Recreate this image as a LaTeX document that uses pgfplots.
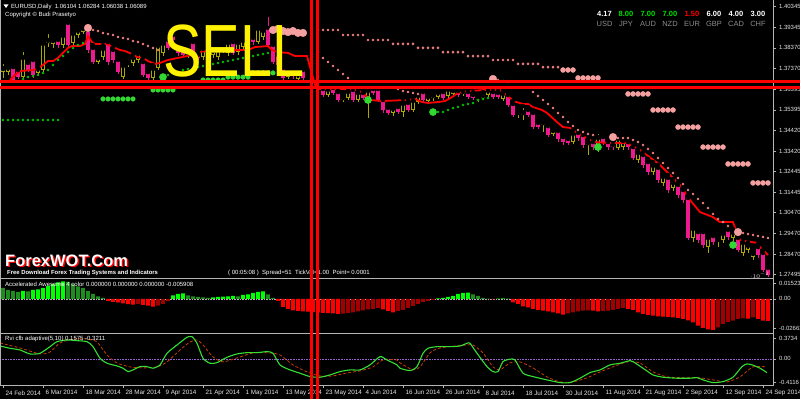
\documentclass[border=0pt]{standalone}
\usepackage{graphicx}
\usepackage{pgfplots}
\pgfplotsset{compat=1.18}
\usepackage{pgfplotstable}
\usepackage{fontspec}
\setmainfont{Liberation Sans}
\definecolor{bullc}{HTML}{A8A800}
\definecolor{bearc}{HTML}{EC1A8C}
\definecolor{sarpink}{HTML}{F08080}
\definecolor{sarpinkbig}{HTML}{F4A0A0}
\definecolor{sargreen}{HTML}{00C000}
\definecolor{sargreenbig}{HTML}{32D732}
\definecolor{aobg}{HTML}{00FF00}
\definecolor{aodg}{HTML}{1E8C1E}
\definecolor{aobr}{HTML}{FF0000}
\definecolor{aodr}{HTML}{A00000}
\definecolor{rvig}{HTML}{33E033}
\definecolor{rvis}{HTML}{C83C00}
\definecolor{axgray}{HTML}{B4B4B4}
\definecolor{lbl}{HTML}{E6E6E6}
\definecolor{curgray}{HTML}{8C8C8C}
\definecolor{curgreen}{HTML}{00E000}

\pgfplotstableread{
x h l t b
0 1.3769 1.3693 1.3741 1.3721
1 1.3760 1.3707 1.3745 1.3721
4 1.3827 1.3688 1.3793 1.3697
7 1.3755 1.3702 1.3741 1.3717
8 1.3875 1.3721 1.3861 1.3731
9 1.3913 1.3841 1.3875 1.3861
10 1.3894 1.3837 1.3875 1.3856
12 1.3913 1.3837 1.3899 1.3851
14 1.3923 1.3846 1.3909 1.3861
15 1.3942 1.3885 1.3923 1.3899
16 1.3947 1.3904 1.3933 1.3913
19 1.3808 1.3760 1.3793 1.3769
20 1.3851 1.3779 1.3837 1.3793
24 1.3769 1.3688 1.3755 1.3697
25 1.3789 1.3745 1.3769 1.3760
26 1.3808 1.3750 1.3793 1.3765
27 1.3827 1.3765 1.3813 1.3779
30 1.3755 1.3683 1.3741 1.3693
31 1.3865 1.3731 1.3851 1.3741
32 1.3875 1.3798 1.3861 1.3813
37 1.3832 1.3789 1.3817 1.3803
40 1.3851 1.3779 1.3837 1.3793
41 1.3846 1.3798 1.3827 1.3813
42 1.3841 1.3789 1.3827 1.3803
43 1.3851 1.3779 1.3837 1.3793
44 1.3856 1.3813 1.3841 1.3827
45 1.3885 1.3798 1.3865 1.3813
47 1.3880 1.3803 1.3865 1.3817
48 1.3889 1.3827 1.3875 1.3841
51 1.3947 1.3856 1.3933 1.3865
52 1.3937 1.3875 1.3923 1.3889
57 1.3736 1.3688 1.3721 1.3697
59 1.3726 1.3683 1.3712 1.3688
65 1.3649 1.3601 1.3640 1.3611
68 1.3616 1.3577 1.3601 1.3587
69 1.3645 1.3587 1.3630 1.3597
71 1.3640 1.3577 1.3625 1.3587
73 1.3645 1.3501 1.3635 1.3597
78 1.3568 1.3510 1.3549 1.3525
80 1.3592 1.3505 1.3573 1.3529
82 1.3601 1.3529 1.3587 1.3539
83 1.3625 1.3568 1.3611 1.3577
85 1.3621 1.3573 1.3606 1.3582
86 1.3630 1.3582 1.3611 1.3597
87 1.3640 1.3592 1.3625 1.3601
89 1.3649 1.3597 1.3640 1.3606
90 1.3649 1.3606 1.3635 1.3616
92 1.3645 1.3606 1.3630 1.3616
95 1.3616 1.3577 1.3601 1.3587
96 1.3625 1.3587 1.3611 1.3597
97 1.3645 1.3601 1.3635 1.3611
100 1.3635 1.3582 1.3621 1.3592
103 1.3549 1.3501 1.3529 1.3520
104 1.3558 1.3491 1.3529 1.3515
108 1.3501 1.3433 1.3481 1.3467
110 1.3457 1.3414 1.3443 1.3424
114 1.3443 1.3376 1.3429 1.3385
117 1.3400 1.3323 1.3385 1.3371
119 1.3433 1.3337 1.3409 1.3347
123 1.3419 1.3347 1.3405 1.3357
124 1.3409 1.3347 1.3395 1.3361
127 1.3352 1.3285 1.3337 1.3299
130 1.3289 1.3227 1.3275 1.3241
132 1.3237 1.3174 1.3222 1.3189
134 1.3208 1.3150 1.3193 1.3165
138 1.2987 1.2905 1.2973 1.2925
141 1.2949 1.2853 1.2929 1.2881
143 1.2939 1.2881 1.2920 1.2910
144 1.2963 1.2901 1.2949 1.2915
146 1.2968 1.2910 1.2953 1.2925
148 1.2920 1.2838 1.2905 1.2853
149 1.2905 1.2853 1.2891 1.2867
150 1.2867 1.2819 1.2853 1.2833
}\bull

\pgfplotstableread{
x h l t b
2 1.3755 1.3673 1.3745 1.3683
3 1.3741 1.3688 1.3731 1.3697
5 1.3779 1.3721 1.3765 1.3731
6 1.3793 1.3693 1.3779 1.3707
11 1.3889 1.3837 1.3875 1.3851
13 1.3971 1.3841 1.3957 1.3851
17 1.3937 1.3813 1.3923 1.3827
18 1.3851 1.3760 1.3837 1.3769
21 1.3885 1.3755 1.3865 1.3769
22 1.3841 1.3765 1.3827 1.3779
23 1.3793 1.3712 1.3779 1.3721
28 1.3789 1.3697 1.3769 1.3707
29 1.3731 1.3683 1.3721 1.3693
33 1.3889 1.3827 1.3875 1.3837
34 1.3923 1.3851 1.3899 1.3875
35 1.3856 1.3798 1.3841 1.3813
36 1.3841 1.3793 1.3827 1.3803
38 1.3880 1.3798 1.3865 1.3813
39 1.3817 1.3779 1.3803 1.3789
46 1.3885 1.3803 1.3865 1.3813
49 1.3894 1.3837 1.3875 1.3851
50 1.3899 1.3851 1.3885 1.3865
53 1.3995 1.3837 1.3933 1.3851
54 1.3865 1.3760 1.3851 1.3769
55 1.3817 1.3741 1.3803 1.3755
56 1.3760 1.3683 1.3741 1.3693
58 1.3731 1.3688 1.3721 1.3702
60 1.3741 1.3683 1.3731 1.3693
64 1.3649 1.3601 1.3640 1.3611
66 1.3654 1.3611 1.3645 1.3621
67 1.3635 1.3577 1.3625 1.3587
70 1.3645 1.3577 1.3635 1.3587
72 1.3630 1.3587 1.3621 1.3597
74 1.3649 1.3611 1.3640 1.3621
75 1.3649 1.3577 1.3640 1.3587
76 1.3601 1.3525 1.3587 1.3539
77 1.3563 1.3515 1.3549 1.3525
79 1.3568 1.3520 1.3553 1.3529
81 1.3587 1.3529 1.3573 1.3539
84 1.3640 1.3573 1.3625 1.3587
88 1.3640 1.3587 1.3625 1.3597
91 1.3645 1.3601 1.3630 1.3611
93 1.3635 1.3592 1.3625 1.3601
94 1.3625 1.3587 1.3611 1.3597
98 1.3635 1.3592 1.3625 1.3601
99 1.3630 1.3592 1.3621 1.3601
101 1.3625 1.3553 1.3611 1.3563
102 1.3582 1.3505 1.3568 1.3515
105 1.3553 1.3505 1.3539 1.3515
106 1.3539 1.3448 1.3525 1.3457
107 1.3491 1.3448 1.3477 1.3457
109 1.3477 1.3409 1.3462 1.3419
111 1.3453 1.3385 1.3438 1.3400
112 1.3424 1.3371 1.3409 1.3385
113 1.3414 1.3371 1.3400 1.3381
115 1.3443 1.3390 1.3429 1.3405
116 1.3433 1.3357 1.3419 1.3371
118 1.3400 1.3347 1.3385 1.3361
120 1.3419 1.3371 1.3409 1.3385
121 1.3400 1.3347 1.3385 1.3361
122 1.3385 1.3347 1.3371 1.3361
125 1.3400 1.3347 1.3385 1.3361
126 1.3376 1.3299 1.3361 1.3309
128 1.3337 1.3261 1.3323 1.3275
129 1.3304 1.3227 1.3289 1.3241
131 1.3275 1.3189 1.3261 1.3203
133 1.3227 1.3141 1.3213 1.3155
135 1.3193 1.3117 1.3179 1.3131
136 1.3169 1.3093 1.3155 1.3107
137 1.3131 1.2915 1.3117 1.2925
139 1.2968 1.2901 1.2953 1.2915
140 1.2968 1.2877 1.2953 1.2891
142 1.2949 1.2891 1.2934 1.2905
145 1.2977 1.2915 1.2963 1.2929
147 1.2939 1.2857 1.2925 1.2867
151 1.2896 1.2829 1.2881 1.2843
152 1.2867 1.2761 1.2853 1.2771
153 1.2795 1.2737 1.2781 1.2747
}\bear

\pgfplotsset{
  mt4/.style={scale only axis, width=773pt, xmin=-0.6, xmax=154,
    axis y line*=right, axis line style={draw=none},
    tick style={axgray, line width=0.6pt}, major tick length=3pt, tick align=outside,
    yticklabel style={font=\fontsize{6}{7}\selectfont, text=lbl, xshift=-0.5pt},
    clip=true},
  wick/.style={only marks, mark=none, forget plot,
    error bars/.cd, y dir=minus, y explicit, error mark=none,
    error bar style={draw=#1, line width=0.8pt}},
  body/.style={only marks, mark=none, forget plot,
    error bars/.cd, y dir=minus, y explicit, error mark=none,
    error bar style={draw=#1, line width=3.4pt}},
  bodyin/.style={only marks, mark=none, forget plot,
    error bars/.cd, y dir=minus, y explicit, error mark=none,
    error bar style={draw=black, line width=1.6pt}},
  dot/.style 2 args={only marks, mark=*, mark size=#2, color=#1, forget plot},
  aobar/.style={ybar, bar width=3.8pt, bar shift=0pt, fill=#1, draw=none, forget plot}
}

\begin{document}
\begin{tikzpicture}[x=1pt,y=1pt]
\useasboundingbox (0,0) rectangle (800,399);
\fill[black] (0,0) rectangle (800,399);

% ---------------- main price panel ----------------
\begin{axis}[mt4, axis x line=none, at={(0pt,121pt)}, anchor=south west, height=278pt,
  ymin=1.27326, ymax=1.4067,
  ytick={1.27495,1.28470,1.29470,1.30470,1.31445,1.32445,1.33420,1.34420,1.35395,1.36395,1.37370,1.38370,1.39345,1.40345},
  yticklabels={1.27495,1.28470,1.29470,1.30470,1.31445,1.32445,1.33420,1.34420,1.35395,1.36395,1.37370,1.38370,1.39345,1.40345}]
% candles
\addplot[wick=bullc] table[x=x, y=h, y error minus expr=\thisrow{h}-\thisrow{l}] {\bull};
\addplot[wick=bearc] table[x=x, y=h, y error minus expr=\thisrow{h}-\thisrow{l}] {\bear};
\addplot[body=bullc] table[x=x, y=t, y error minus expr=\thisrow{t}-\thisrow{b}] {\bull};
\addplot[bodyin] table[x=x, y expr=\thisrow{t}-0.0005, y error minus expr={max(\thisrow{t}-\thisrow{b}-0.001,0)}] {\bull};
\addplot[body=bearc] table[x=x, y=t, y error minus expr=\thisrow{t}-\thisrow{b}] {\bear};
% red line
\addplot[red, line width=1.8pt, forget plot] coordinates {
(1.4,1.3683) (2.4,1.3707) (3.4,1.3726) (6,1.3731) (6.8,1.3736) (8,1.3755) (9,1.3774) (10,1.3774)
(11,1.3789) (12,1.3813) (13,1.3837) (13.8,1.3846) (15.4,1.3846) (16.4,1.3856) (17,1.3894) (17.8,1.3865)
(18.4,1.3856) (20.8,1.3856) (22,1.3841) (23.4,1.3827) (24.4,1.3822) (25.8,1.3808) (26.8,1.3793)
(28,1.3789) (29,1.3774) (30.4,1.3760) (31.4,1.3765) (33,1.3779) (35.8,1.3793) (37.8,1.3803)
(39,1.3817) (42.4,1.3827) (45,1.3832) (46.4,1.3827) (49,1.3827) (50.4,1.3841) (53,1.3846)
(53.8,1.3827) (54.8,1.3817) (57,1.3813) (58.4,1.3798) (60.8,1.3798) (61.4,1.3745) (62.6,1.3645)
(63.4,1.3640) (67.4,1.3640) (71,1.3635) (72.4,1.3611) (73.4,1.3587) (75.8,1.3582) (81,1.3587)
(82.4,1.3592) (83.8,1.3577) (85,1.3573) (87,1.3577) (88.4,1.3582) (89.8,1.3601) (91,1.3621)
(93,1.3630) (96.4,1.3635) (99.4,1.3635) (101.4,1.3597) (102,1.3582) (104,1.3568) (105,1.3568)
(106,1.3553) (107.8,1.3539) (108.8,1.3525) (110.8,1.3481) (112,1.3457) (113.4,1.3453) (114.8,1.3429)
(116,1.3414) (117.4,1.3395) (118.4,1.3385) (120.8,1.3381) (124.8,1.3381) (127.4,1.3347)
(131.4,1.3275) (135.4,1.3179) (137.4,1.3107) (139.4,1.3049) (142,1.3025) (143.4,1.3001)
(146,1.3001) (146.8,1.2949) (147.4,1.2915) (150.8,1.2901) (151.4,1.2881) (153,1.2843)};
% pink SAR (small)
\addplot[dot={sarpink}{1.1pt}] coordinates {
(18,1.3923) (19,1.3918) (20,1.3909) (21,1.3904) (22,1.3899) (23,1.3889) (24,1.3885) (25,1.3880)
(26,1.3870) (27,1.3865) (28,1.3856) (29,1.3846) (30,1.3837) (31,1.3827)
(64,1.3789) (65,1.3769) (66,1.3750) (67,1.3731) (68,1.3712) (69,1.3693)
(79,1.3640) (80,1.3630) (81,1.3625) (82,1.3621) (83,1.3616)
(99,1.3683) (100,1.3678) (101,1.3673) (106,1.3625) (107,1.3606) (108,1.3587) (109,1.3568)
(110,1.3549) (111,1.3525) (112,1.3505) (113,1.3481) (114,1.3462) (115,1.3443) (116,1.3433)
(117,1.3424) (118,1.3419)
(123,1.3405) (124,1.3405) (125,1.3405) (126,1.3395) (127,1.3385) (128,1.3371) (129,1.3352)
(130,1.3333) (131,1.3309) (132,1.3285) (133,1.3261) (134,1.3237) (135,1.3213) (136,1.3184)
(137,1.3155) (138,1.3136) (139,1.3112) (140,1.3093) (141,1.3069) (142,1.3040) (143,1.3016)
(144,1.3001) (145,1.2982) (148,1.2949) (149,1.2944) (150,1.2939) (151,1.2934) (152,1.2929) (153,1.2925)};
% pink staircase (upper, small)
\addplot[dot={sarpink}{1.2pt}] coordinates {
(63,1.3923) (64,1.3923) (65,1.3923) (66,1.3923) (67,1.3923)
(68,1.3899) (69,1.3899) (70,1.3899) (71,1.3899) (72,1.3899)
(73,1.3875) (74,1.3875) (75,1.3875) (76,1.3875) (77,1.3875)
(78,1.3856) (79,1.3856) (80,1.3856) (81,1.3856) (82,1.3856)
(83,1.3837) (84,1.3837) (85,1.3837) (86,1.3837) (87,1.3837)
(88,1.3817) (89,1.3817) (90,1.3817) (91,1.3817) (92,1.3817)
(93,1.3798) (94,1.3798) (95,1.3798) (96,1.3798) (97,1.3798)
(98,1.3779) (99,1.3779) (100,1.3779) (101,1.3779) (102,1.3779)
(103,1.3760) (104,1.3760) (105,1.3760) (106,1.3760) (107,1.3760)
(108,1.3745) (109,1.3745) (110,1.3745) (111,1.3745)};
% pink staircase (medium)
\addplot[dot={sarpinkbig}{2.5pt}] coordinates {
(112,1.3731) (113,1.3731) (114,1.3731)
(115,1.3693) (116,1.3693) (117,1.3693) (118,1.3693) (119,1.3693)
(125,1.3616) (126,1.3616) (127,1.3616) (128,1.3616) (129,1.3616)
(130,1.3539) (131,1.3539) (132,1.3539) (133,1.3539) (134,1.3539)
(135,1.3457) (136,1.3457) (137,1.3457) (138,1.3457) (139,1.3457)
(140,1.3361) (141,1.3361) (142,1.3361) (143,1.3361) (144,1.3361)
(145,1.3280) (146,1.3280) (147,1.3280) (148,1.3280) (149,1.3280)
(150,1.3189) (151,1.3189) (152,1.3189) (153,1.3189)};
% pink big
\addplot[dot={sarpinkbig}{3.8pt}] coordinates {
(17,1.3933) (54,1.3923) (55,1.3928) (56,1.3918) (57,1.3913) (58,1.3918) (59,1.3909) (60,1.3909)
(98,1.3688) (122,1.3409) (147,1.2953)};
% green SAR small
\addplot[dot={sargreen}{1.1pt}] coordinates {
(4,1.3688) (5,1.3697) (6,1.3702) (7,1.3707) (8,1.3717) (9,1.3731) (10,1.3755) (11,1.3779)
(12,1.3798) (13,1.3817) (14,1.3837) (15,1.3851) (16,1.3861)
(33,1.3707) (34,1.3717) (35,1.3721) (36,1.3731) (37,1.3736) (38,1.3741) (39,1.3745) (40,1.3750)
(41,1.3755) (42,1.3760) (43,1.3765) (44,1.3769) (45,1.3774) (46,1.3779) (47,1.3784) (48,1.3789)
(49,1.3793) (50,1.3798) (51,1.3803) (52,1.3808) (53,1.3813)
(87,1.3529) (88,1.3529) (89,1.3539) (90,1.3549) (91,1.3553) (92,1.3563) (93,1.3568) (94,1.3573)
(95,1.3587) (96,1.3592) (97,1.3597)
(0,1.3491) (1,1.3491) (2,1.3491) (3,1.3491) (4,1.3491) (5,1.3491) (6,1.3491) (7,1.3491)
(8,1.3491) (9,1.3491) (10,1.3491) (11,1.3491)};
% green medium rows
\addplot[dot={sargreenbig}{2.3pt}] coordinates {
(40,1.3683) (41,1.3683) (42,1.3683) (43,1.3683) (44,1.3683)
(45,1.3697) (46,1.3697) (47,1.3697) (48,1.3697) (49,1.3697)
(50,1.3717) (51,1.3717) (52,1.3717) (53,1.3717) (54,1.3717)
(20,1.3592) (21,1.3592) (22,1.3592) (23,1.3592) (24,1.3592) (25,1.3592) (26,1.3592)
(30,1.3635) (31,1.3635) (32,1.3635) (33,1.3635) (34,1.3635)};
% green big
\addplot[dot={sargreenbig}{3.6pt}] coordinates {
(32,1.3697) (73,1.3587) (86,1.3529) (119,1.3361) (146,1.2891)};
\end{axis}

% ---------------- AO panel ----------------
\begin{axis}[mt4, axis x line=none, at={(0pt,67pt)}, anchor=south west, height=52pt,
  ymin=-0.026636, ymax=0.01523,
  ytick={0.0128,0,-0.0236}, yticklabels={0.01523,0.00,-0.026636}]
\addplot[white!70!black, densely dotted, line width=0.6pt, forget plot] coordinates {(-0.6,0) (154,0)};
\addplot[aobar=aobg] coordinates {
(4,0.0064) (6,0.0072) (7,0.0076) (8,0.0089) (9,0.0105) (10,0.0121) (11,0.0133) (12,0.0141)
(34,0.0028) (35,0.0040) (36,0.0044) (42,0.0012) (43,0.0016) (44,0.0018) (45,0.0020) (46,0.0024)
(48,0.0032) (49,0.0036) (50,0.0048) (51,0.0056) (52,0.0060) (87,0.0004) (88,0.0008) (89,0.0016)
(90,0.0024) (91,0.0040) (92,0.0048) (93,0.0051) (99,0.0003) (100,0.0004)};
\addplot[aobar=aodg] coordinates {
(0,0.0089) (1,0.0072) (2,0.0064) (3,0.0056) (5,0.0060) (13,0.0137) (14,0.0121) (15,0.0101)
(16,0.0089) (17,0.0064) (18,0.0040) (19,0.0020) (20,0.0008) (37,0.0028) (38,0.0020) (39,0.0016)
(40,0.0012) (41,0.0008) (47,0.0020) (53,0.0036) (54,0.0008) (94,0.0036) (95,0.0024) (96,0.0008)
(97,0.0003) (101,0.0003)};
\addplot[aobar=aobr] coordinates {
(21,-0.0016) (22,-0.0023) (23,-0.0027) (24,-0.0036) (25,-0.0042) (26,-0.0046) (28,-0.0048)
(29,-0.0055) (30,-0.0062) (55,-0.0016) (56,-0.0064) (57,-0.0080) (58,-0.0093) (59,-0.0097)
(60,-0.0100) (61,-0.0103) (62,-0.0106) (63,-0.0109) (64,-0.0113) (65,-0.0115) (66,-0.0117)
(67,-0.0121) (76,-0.0085) (77,-0.0097) (78,-0.0108) (98,-0.0004) (102,-0.0027) (103,-0.0040)
(104,-0.0060) (105,-0.0068) (106,-0.0080) (107,-0.0089) (108,-0.0094) (109,-0.0101) (110,-0.0108)
(111,-0.0116) (112,-0.0126) (118,-0.0094) (119,-0.0100) (125,-0.0080) (126,-0.0089) (127,-0.0108)
(128,-0.0121) (129,-0.0129) (130,-0.0134) (131,-0.0141) (132,-0.0142) (133,-0.0145) (134,-0.0149)
(135,-0.0153) (136,-0.0161) (137,-0.0173) (138,-0.0188) (139,-0.0215) (140,-0.0233) (141,-0.0246)
(142,-0.0250) (149,-0.0159) (151,-0.0161) (152,-0.0175) (153,-0.0177)};
\addplot[aobar=aodr] coordinates {
(27,-0.0040) (31,-0.0054) (32,-0.0040) (33,-0.0016) (68,-0.0118) (69,-0.0113) (70,-0.0108)
(71,-0.0101) (72,-0.0093) (73,-0.0085) (74,-0.0080) (75,-0.0072) (79,-0.0097) (80,-0.0089)
(81,-0.0072) (82,-0.0056) (83,-0.0040) (84,-0.0024) (85,-0.0016) (86,-0.0008) (113,-0.0117)
(114,-0.0108) (115,-0.0100) (116,-0.0094) (117,-0.0093) (120,-0.0097) (121,-0.0094) (122,-0.0089)
(123,-0.0080) (124,-0.0072) (143,-0.0229) (144,-0.0201) (145,-0.0185) (146,-0.0175) (147,-0.0161)
(148,-0.0157) (150,-0.0148)};
\end{axis}

% ---------------- RVI panel ----------------
\begin{axis}[mt4, axis x line*=bottom, at={(0pt,14pt)}, anchor=south west, height=49pt,
  ymin=-0.465, ymax=0.409,
  ytick={0.3734,0,-0.4116}, yticklabels={0.3734,0.00,-0.4116},
  xtick={0,8,...,152},
  xticklabels={24 Feb 2014,6 Mar 2014,18 Mar 2014,28 Mar 2014,9 Apr 2014,21 Apr 2014,1 May 2014,13 May 2014,23 May 2014,4 Jun 2014,16 Jun 2014,26 Jun 2014,8 Jul 2014,18 Jul 2014,30 Jul 2014,11 Aug 2014,21 Aug 2014,2 Sep 2014,12 Sep 2014,24 Sep 2014},
  xticklabel style={anchor=north west, font=\fontsize{6.3}{7}\selectfont, text=lbl, xshift=-1pt, yshift=1pt}]
\addplot[color={rgb,255:red,150;green,100;blue,210}, densely dotted, line width=0.6pt, forget plot] coordinates {(-0.6,0) (154,0)};
\addplot[rvis, line width=0.8pt, dash pattern=on 3pt off 2pt, smooth, tension=0.4, forget plot] coordinates {
(-0.6,0.285) (3.4,0.196) (7.4,0.089) (9.4,0.125) (11.4,0.285) (14,0.356) (16.8,0.356) (18.8,0.303)
(20.8,0.071) (22.8,-0.071) (25.4,-0.142) (28,-0.160) (30.8,-0.142) (32.8,-0.053) (35.4,0.160)
(37.4,0.303) (38.8,0.338) (40,0.249) (42,0.036) (44,-0.053) (46.8,0.018) (50,0.107) (53.4,0.107)
(55.4,0.071) (58,-0.107) (60.8,-0.231) (63.4,-0.303) (66,-0.303) (68.8,-0.249) (71.4,-0.214)
(74,-0.142) (76,-0.018) (78.8,-0.018) (79.4,-0.071) (82,-0.196) (83.4,-0.142) (85.4,0.107)
(87.4,0.196) (92.8,0.249) (94,0.249) (96,0.107) (98,-0.142) (99.4,-0.196) (101.4,-0.071)
(103.4,-0.053) (106,-0.160) (108.8,-0.320) (111.4,-0.409) (114,-0.409) (116.8,-0.338)
(119.4,-0.231) (122,-0.142) (124.8,-0.053) (127.4,-0.071) (130,-0.231) (132.8,-0.320)
(136.8,-0.338) (139.4,-0.338) (142,-0.374) (144.8,-0.409) (147.4,-0.320) (150,-0.142) (152.8,-0.142)};
\addplot[rvig, line width=1.1pt, smooth, tension=0.4, forget plot] coordinates {
(-0.6,0.231) (1.4,0.190) (3.4,0.160) (5.4,0.089) (7.4,0.101) (9.4,0.219) (10.8,0.308) (12.8,0.338)
(14.8,0.326) (16.8,0.308) (18,0.219) (19.4,0.012) (20.8,-0.077) (22.8,-0.125) (24,-0.166)
(25,-0.226) (26,-0.196) (27.4,-0.137) (28.8,-0.137) (30,-0.166) (31.4,-0.107) (32.8,0.101)
(34.8,0.249) (36.8,0.386) (37.8,0.397) (38.8,0.279) (40,0.012) (41.4,-0.077) (42.8,-0.066)
(44.8,0.030) (46.8,0.089) (48.8,0.112) (50.8,0.112) (52.8,0.130) (54,0.101) (55.4,-0.107)
(57.4,-0.196) (59.4,-0.255) (61.4,-0.315) (63.4,-0.326) (65.4,-0.285) (67.4,-0.226) (69.4,-0.196)
(71.4,-0.196) (73.4,-0.107) (75.4,0.041) (76.8,-0.018) (78.8,-0.107) (79.4,-0.166) (81.4,-0.208)
(82.8,-0.137) (84,0.101) (85,0.190) (86.8,0.219) (89.4,0.219) (91.4,0.231) (92.8,0.279)
(93.4,0.279) (94.8,0.101) (96.8,-0.137) (98,-0.226) (99,-0.226) (100,-0.048) (101.4,-0.005)
(102.4,-0.018) (104,-0.255) (106,-0.315) (108.8,-0.374) (111.4,-0.422) (113.4,-0.422)
(115.4,-0.344) (117.4,-0.244) (119.4,-0.196) (121.4,-0.107) (123.4,-0.077) (125.4,-0.030)
(126,-0.048) (128,-0.166) (130,-0.285) (132,-0.326) (134.8,-0.344) (137.4,-0.344) (138.8,-0.333)
(140,-0.374) (142,-0.422) (144,-0.404) (146,-0.326) (147.8,-0.137) (148.8,-0.089) (150,-0.112)
(151.4,-0.166) (152.8,-0.244)};
\end{axis}

% frame lines
\draw[axgray, line width=1.6pt] (0,120.5) -- (773.5,120.5);
\draw[axgray, line width=1.6pt] (0,65.5) -- (773.5,65.5);
\draw[axgray, line width=1.2pt] (0,13.5) -- (773.5,13.5);
\draw[axgray, line width=1.2pt] (773.5,13) -- (773.5,399);
\draw[axgray, line width=0.8pt] (0.6,13) -- (0.6,399);

% texts
\fill[white] (3.5,394.5) -- (8.5,394.5) -- (6,391) -- cycle;
\node[anchor=west, inner sep=0, text=white, font=\fontsize{6}{7}\selectfont] at (11,392.5) {EURUSD,Daily\ \ 1.06104\ 1.06284\ 1.06038\ 1.06089};
\node[anchor=west, inner sep=0, text=white, font=\fontsize{6}{7}\selectfont] at (5,384) {Copyright © Budi Prasetyo};

\node[text=yellow, inner sep=0, anchor=center] at (234,347.5) {\scalebox{0.78}[1]{\fontsize{74}{74}\selectfont SELL}};

\begin{scope}[font=\bfseries\fontsize{7.5}{8}\selectfont]
\node[text=white] at (604.5,385) {4.17};
\node[text=curgreen] at (626,385) {8.00};
\node[text=curgreen] at (648,385) {7.00};
\node[text=curgreen] at (670,385) {7.00};
\node[text=red] at (692,385) {1.50};
\node[text=white] at (714,385) {6.00};
\node[text=white] at (736,385) {4.00};
\node[text=white] at (758,385) {3.00};
\end{scope}
\begin{scope}[font=\fontsize{7.5}{8}\selectfont, text=curgray]
\node at (604.5,375) {USD};
\node at (626,375) {JPY};
\node at (648,375) {AUD};
\node at (670,375) {NZD};
\node at (692,375) {EUR};
\node at (714,375) {GBP};
\node at (736,375) {CAD};
\node at (758,375) {CHF};
\end{scope}

\node[anchor=base west, inner sep=0, text=red, font=\bfseries\fontsize{16.5}{17}\selectfont] at (6.5,131) {ForexWOT.Com};
\node[anchor=base west, inner sep=0, text=white, font=\bfseries\fontsize{16.5}{17}\selectfont] at (5,132.5) {ForexWOT.Com};
\node[anchor=west, inner sep=0, text=white, font=\bfseries\fontsize{5.9}{7}\selectfont] at (7,125.8) {Free Download Forex Trading Systems and Indicators};
\node[anchor=west, inner sep=0, text=white, font=\fontsize{6}{7}\selectfont] at (228,125.8) {( 00:05:08 )\ \ Spread=51\ \ TickVal=1.00\ \ Point= 0.0001};
\node[anchor=west, inner sep=0, text=white, font=\fontsize{6}{7}\selectfont] at (5,115) {Accelerated Awesome 4 color 0.000000 0.000000 0.000000 -0.005908};
\node[anchor=west, inner sep=0, text=white, font=\fontsize{6}{7}\selectfont] at (5,59.7) {Rvi cfb adaptive(5,10) 0.1575 -0.3211};

% thick red cross lines
\draw[red, line width=2.8pt] (0,317.7) -- (800,317.7);
\draw[red, line width=2.8pt] (0,311.7) -- (800,311.7);
\draw[red, line width=3.2pt] (311.8,0) -- (311.8,399);
\draw[red, line width=3.2pt] (317.8,0) -- (317.8,399);
\end{tikzpicture}
\end{document}
